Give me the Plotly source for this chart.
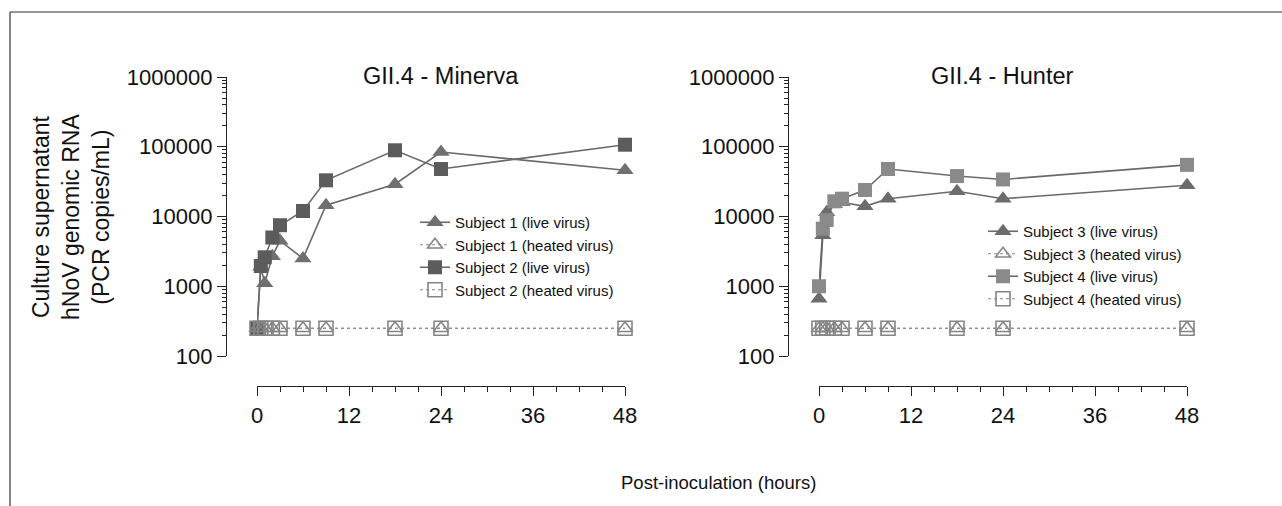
import plotly.graph_objects as go

W, H = 1282, 506

hours = [0, 0.5, 1, 2, 3, 6, 9, 18, 24, 48]
s1_live = [250, 1900, 1100, 2700, 4500, 2500, 14500, 29000, 84000, 46000]
s2_live = [250, 1950, 2600, 5000, 7500, 12000, 33000, 89000, 48000, 107000]
s3_live = [660, 5400, 11500, 15000, 16000, 14000, 18000, 23000, 18000, 28000]
s4_live = [1000, 6700, 8900, 16500, 18000, 24000, 48000, 38000, 34000, 55000]
heated = [250, 250, 250, 250, 250, 250, 250, 250, 250, 250]

panel_titles = ["GII.4 - Minerva", "GII.4 - Hunter"]
y_tickvals = [100, 1000, 10000, 100000, 1000000]
y_ticktext = ["100", "1000", "10000", "100000", "1000000"]
x_tickvals = [0, 12, 24, 36, 48]

FONT = "Liberation Sans, Arial, sans-serif"


def px_x(p):
    return p / W


def px_y(p):
    return 1 - p / H


fig = go.Figure()

line_col = "#6a6a6a"
panels = [
    dict(xa="x", ya="y", legend="legend",
         live=[("Subject 1 (live virus)", s1_live, "triangle-up", "#707070"),
               ("Subject 2 (live virus)", s2_live, "square", "#5c5c5c")],
         heat=[("Subject 1 (heated virus)", "triangle-up-open"),
               ("Subject 2 (heated virus)", "square-open")]),
    dict(xa="x2", ya="y2", legend="legend2",
         live=[("Subject 3 (live virus)", s3_live, "triangle-up", "#6c6c6c"),
               ("Subject 4 (live virus)", s4_live, "square", "#8a8a8a")],
         heat=[("Subject 3 (heated virus)", "triangle-up-open"),
               ("Subject 4 (heated virus)", "square-open")]),
]

for p in panels:
    for i, (name, vals, sym, col) in enumerate(p["live"]):
        fig.add_trace(go.Scatter(
            x=hours, y=vals, name=name, mode="lines+markers",
            xaxis=p["xa"], yaxis=p["ya"], legend=p["legend"],
            legendrank=10 + 2 * i, cliponaxis=False,
            line=dict(color=line_col, width=1.6),
            marker=dict(symbol=sym, size=15 if "triangle" in sym else 14,
                        color=col, line=dict(width=0))))
    for i, (name, sym) in enumerate(p["heat"]):
        fig.add_trace(go.Scatter(
            x=hours, y=heated, name=name, mode="lines+markers",
            xaxis=p["xa"], yaxis=p["ya"], legend=p["legend"],
            legendrank=11 + 2 * i, cliponaxis=False,
            line=dict(color="#888888", width=1.2, dash="dot"),
            marker=dict(symbol=sym, size=13 if "triangle" in sym else 14,
                        color="#858585", line=dict(width=1.6, color="#858585"))))

yaxis_common = dict(
    type="log", range=[2, 6], domain=[px_y(356), px_y(77)],
    anchor="free", tickvals=y_tickvals, ticktext=y_ticktext, automargin=False,
    ticks="outside", ticklen=9, tickwidth=1.3, tickcolor="#222",
    showline=True, linecolor="#222", linewidth=1.3, showgrid=False,
    zeroline=False, tickfont=dict(family=FONT, size=22, color="#111"),
    minor=dict(dtick="D1", ticks="outside", ticklen=4, tickwidth=1,
               tickcolor="#222", showgrid=False),
)
xaxis_common = dict(
    range=[0, 48], anchor="free", position=px_y(386), automargin=False,
    tickvals=x_tickvals, ticks="outside", ticklen=9, tickwidth=1.3,
    tickcolor="#222", showline=True, linecolor="#222", linewidth=1.3,
    showgrid=False, zeroline=False,
    tickfont=dict(family=FONT, size=22, color="#111"),
    minor=dict(dtick=3, ticks="outside", ticklen=5, tickwidth=1.1,
               tickcolor="#222", showgrid=False),
)

legend_common = dict(xanchor="left", yanchor="top", bgcolor="rgba(0,0,0,0)",
                     font=dict(family=FONT, size=15, color="#111"),
                     itemwidth=30, tracegroupgap=0)

fig.update_layout(
    width=W, height=H,
    margin=dict(l=0, r=0, t=0, b=0, autoexpand=False),
    paper_bgcolor="white", plot_bgcolor="white",
    font=dict(family=FONT, color="#111"),
    xaxis=dict(domain=[px_x(257), px_x(625)], **xaxis_common),
    xaxis2=dict(domain=[px_x(819), px_x(1187)], **xaxis_common),
    yaxis=dict(position=px_x(226), **yaxis_common),
    yaxis2=dict(position=px_x(788), **yaxis_common),
    legend=dict(x=px_x(415), y=px_y(206), **legend_common),
    legend2=dict(x=px_x(983), y=px_y(215), **legend_common),
    showlegend=True,
)

annotations = [
    dict(text=panel_titles[0], x=px_x(441), y=px_y(76), xref="paper", yref="paper",
         xanchor="center", yanchor="middle",
         showarrow=False, font=dict(family=FONT, size=23.5, color="#111")),
    dict(text=panel_titles[1], x=px_x(1003), y=px_y(76), xref="paper", yref="paper",
         xanchor="center", yanchor="middle",
         showarrow=False, font=dict(family=FONT, size=23.5, color="#111")),
    dict(text="Culture supernatant<br>hNoV genomic RNA<br>(PCR copies/mL)",
         x=px_x(71), y=px_y(217), xref="paper", yref="paper", textangle=-90,
         xanchor="center", yanchor="middle",
         showarrow=False, font=dict(family=FONT, size=23, color="#111")),
    dict(text="Post-inoculation (hours)", x=px_x(718), y=px_y(482),
         xref="paper", yref="paper", showarrow=False,
         xanchor="center", yanchor="middle",
         font=dict(family=FONT, size=18.5, color="#111")),
]
fig.update_layout(annotations=annotations)

fig.add_shape(type="line", xref="paper", yref="paper",
              x0=px_x(10), y0=px_y(12), x1=1, y1=px_y(12),
              line=dict(color="#333", width=1.2))
fig.add_shape(type="line", xref="paper", yref="paper",
              x0=px_x(10), y0=px_y(12), x1=px_x(10), y1=0,
              line=dict(color="#333", width=1.2))

fig.write_html("out.html", config={"displayModeBar": False},
               post_script="document.body.style.margin='0';document.body.style.overflow='hidden';")
